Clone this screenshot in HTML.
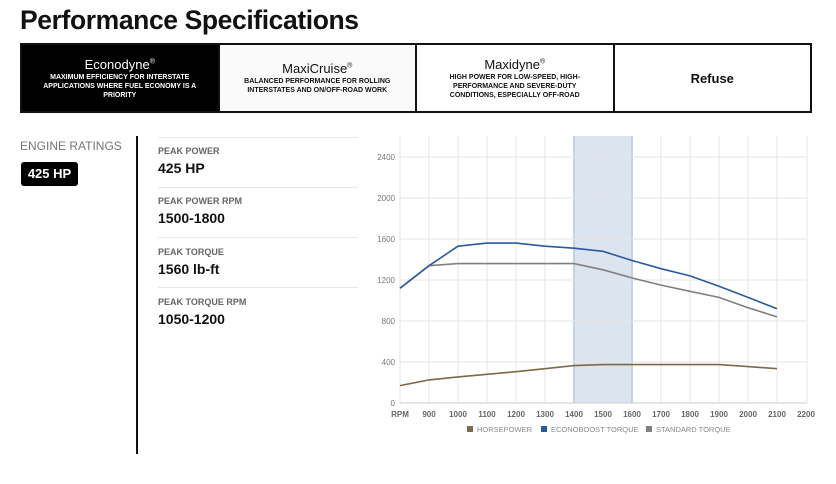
<!DOCTYPE html>
<html><head><meta charset="utf-8"><style>
body{margin:0;width:836px;height:484px;background:#fff;font-family:"Liberation Sans",sans-serif;position:relative;overflow:hidden}
.a{position:absolute}
h1{position:absolute;left:20px;top:5px;margin:0;font-size:26.5px;font-weight:bold;color:#111;letter-spacing:-0.4px}
.tabs{position:absolute;left:20px;top:43px;width:788px;height:66px;border:2px solid #111;display:flex}
.tab{flex:1;border-left:2px solid #111;display:flex;flex-direction:column;justify-content:center;align-items:center;text-align:center;color:#111}
.tab:first-child{border-left:none;background:#000;color:#fff}
.tab .t{font-size:13px}
.tab sup{font-size:7px}
.tab .d{font-size:7px;font-weight:bold;line-height:9px;margin-top:1px;padding:0 14px}
.lbl{font-size:9px;font-weight:bold;color:#666}
.val{font-size:14px;font-weight:bold;color:#111}
.sep{position:absolute;left:158px;width:200px;height:1px;background:#e8e8e8}
</style></head><body>
<h1>Performance Specifications</h1>
<div class="tabs">
<div class="tab"><div class="t">Econodyne<sup>®</sup></div><div class="d" style="padding:0 10px">MAXIMUM EFFICIENCY FOR INTERSTATE APPLICATIONS WHERE FUEL ECONOMY IS A PRIORITY</div></div>
<div class="tab" style="background:#fafafa"><div class="t">MaxiCruise<sup>®</sup></div><div class="d">BALANCED PERFORMANCE FOR ROLLING INTERSTATES AND ON/OFF-ROAD WORK</div></div>
<div class="tab"><div class="t">Maxidyne<sup>®</sup></div><div class="d" style="padding:0 22px">HIGH POWER FOR LOW-SPEED, HIGH-PERFORMANCE AND SEVERE-DUTY CONDITIONS, ESPECIALLY OFF-ROAD</div></div>
<div class="tab"><div class="t" style="font-weight:bold;font-size:13px">Refuse</div></div>
</div>
<div class="a" style="left:20px;top:139px;font-size:12px;color:#777">ENGINE RATINGS</div>
<div class="a" style="left:21px;top:162px;width:57px;height:24px;background:#000;border-radius:3px;color:#fff;font-size:13px;font-weight:bold;line-height:24px;text-align:center">425 HP</div>
<div class="a" style="left:136px;top:136px;width:2px;height:318px;background:#111"></div>
<div class="sep" style="top:137px"></div><div class="sep" style="top:187px"></div><div class="sep" style="top:237px"></div><div class="sep" style="top:287px"></div>
<div class="a lbl" style="left:158px;top:146px">PEAK POWER</div><div class="a val" style="left:158px;top:160px">425 HP</div>
<div class="a lbl" style="left:158px;top:196px">PEAK POWER RPM</div><div class="a val" style="left:158px;top:210px">1500-1800</div>
<div class="a lbl" style="left:158px;top:247px">PEAK TORQUE</div><div class="a val" style="left:158px;top:261px">1560 lb-ft</div>
<div class="a lbl" style="left:158px;top:297px">PEAK TORQUE RPM</div><div class="a val" style="left:158px;top:311px">1050-1200</div>
<svg class="a" style="left:0;top:0" width="836" height="484" font-family="Liberation Sans" >
<rect x="574" y="136" width="58" height="267" fill="#dce4f0"/>
<line x1="574" y1="136" x2="574" y2="403" stroke="#c5d2e6" stroke-width="2"/><line x1="632" y1="136" x2="632" y2="403" stroke="#c5d2e6" stroke-width="2"/>
<g stroke="#e6e6e6" stroke-width="1">
<line x1="400" y1="157" x2="807" y2="157"/><line x1="400" y1="198" x2="807" y2="198"/><line x1="400" y1="239" x2="807" y2="239"/><line x1="400" y1="280" x2="807" y2="280"/><line x1="400" y1="321" x2="807" y2="321"/><line x1="400" y1="362" x2="807" y2="362"/>
<line x1="400" y1="136" x2="400" y2="403"/><line x1="429" y1="136" x2="429" y2="403"/><line x1="458" y1="136" x2="458" y2="403"/><line x1="487" y1="136" x2="487" y2="403"/><line x1="516" y1="136" x2="516" y2="403"/><line x1="545" y1="136" x2="545" y2="403"/><line x1="603" y1="136" x2="603" y2="403"/><line x1="661" y1="136" x2="661" y2="403"/><line x1="690" y1="136" x2="690" y2="403"/><line x1="719" y1="136" x2="719" y2="403"/><line x1="748" y1="136" x2="748" y2="403"/><line x1="777" y1="136" x2="777" y2="403"/><line x1="807" y1="136" x2="807" y2="403"/>
</g>
<line x1="400" y1="403" x2="807" y2="403" stroke="#ccc"/>
<g font-size="8" fill="#777" text-anchor="end">
<text x="395" y="160">2400</text><text x="395" y="201">2000</text><text x="395" y="242">1600</text><text x="395" y="283">1200</text><text x="395" y="324">800</text><text x="395" y="365">400</text><text x="395" y="406">0</text>
</g>
<g font-size="8" fill="#666" text-anchor="middle" font-weight="bold">
<text x="400" y="417">RPM</text><text x="429" y="417">900</text><text x="458" y="417">1000</text><text x="487" y="417">1100</text><text x="516" y="417">1200</text><text x="545" y="417">1300</text><text x="574" y="417">1400</text><text x="603" y="417">1500</text><text x="632" y="417">1600</text><text x="661" y="417">1700</text><text x="690" y="417">1800</text><text x="719" y="417">1900</text><text x="748" y="417">2000</text><text x="777" y="417">2100</text><text x="806" y="417">2200</text>
</g>
<polyline fill="none" stroke="#808080" stroke-width="1.6" points="400,288.2 429,265.7 458,263.6 487,263.6 516,263.6 545,263.6 574,263.6 603,269.8 632,277.9 661,285.1 690,291.3 719,297.4 748,307.7 777,316.9"/>
<polyline fill="none" stroke="#2a5a9e" stroke-width="1.6" points="400,288.2 429,265.7 458,246.2 487,243.1 516,243.1 545,246.2 574,248.2 603,251.3 632,260.5 661,268.7 690,275.9 719,286.2 748,297.4 777,308.7"/>
<polyline fill="none" stroke="#7d6a48" stroke-width="1.6" points="400,385.6 429,379.9 458,376.9 487,374.3 516,371.7 545,368.7 574,365.6 603,364.6 632,364.6 661,364.6 690,364.6 719,364.6 748,366.6 777,368.7"/>
<g font-size="7.5" fill="#888">
<rect x="467" y="426" width="6" height="6" fill="#7d6a48"/><text x="477" y="432">HORSEPOWER</text>
<rect x="541" y="426" width="6" height="6" fill="#2a5a9e"/><text x="551" y="432">ECONOBOOST TORQUE</text>
<rect x="646" y="426" width="6" height="6" fill="#808080"/><text x="656" y="432">STANDARD TORQUE</text>
</g>
</svg>
</body></html>
